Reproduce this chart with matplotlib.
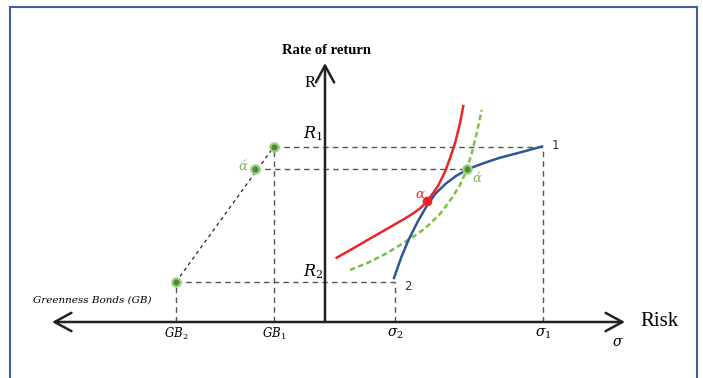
import matplotlib
matplotlib.use("Agg")
import matplotlib.pyplot as plt
from matplotlib.patches import Rectangle

plt.rcParams['mathtext.fontset'] = 'dejavuserif'

# positions on the two axes (origin where the axes cross)
gb1, gb2 = -51, -149
gb_alpha = -70
sig1, sig2 = 218, 70
r1, r2 = 175.5, 40
r_alpha = 153

# curves (x = risk, y = return)
blue_x = [69, 76, 83.5, 92.5, 102, 111, 121, 131, 142, 155, 165, 175, 195, 217]
blue_y = [44, 64, 82, 100, 116.5, 129, 138.5, 146, 152.5, 157.5, 161, 164.3, 169.5, 175.5]
red_x = [11.7, 28.3, 48.3, 71.7, 80, 88, 95, 101, 106, 113.3, 120, 125, 130, 135, 138.3]
red_y = [64.3, 73.7, 85.3, 98.7, 103.5, 108.5, 113.5, 119.5, 126, 136.5, 150.3, 163.7, 178.7, 198.7, 216]
green_x = [25, 41.7, 61.7, 83.3, 100, 115, 126.7, 135, 141.7, 146.7, 151.7, 156.7]
green_y = [52, 58.7, 68.7, 82, 93.5, 108, 123.7, 137, 152, 168.7, 188.7, 212]

fig = plt.figure(figsize=(7.03, 3.78), dpi=100)
ax = fig.add_axes([0, 0, 1, 1])
ax.set_xlim(-325, 378)
ax.set_ylim(-56, 322)
ax.axis('off')

# frame
fig.patches.append(Rectangle((10 / 703, -0.05), 687 / 703, 1.05 - 7 / 378, transform=fig.transFigure,
                             fill=False, edgecolor='#3d5fa6', lw=1.5))

dash = dict(color='#555555', lw=1.0, linestyle=(0, (4, 3)))
ax.plot([gb1, sig1], [r1, r1], **dash)
ax.plot([gb_alpha, 140], [r_alpha, r_alpha], **dash)
ax.plot([gb2, sig2], [r2, r2], **dash)
ax.plot([gb1, gb1], [0, r1], **dash)
ax.plot([gb2, gb2], [0, r2], **dash)
ax.plot([sig2, sig2], [0, r2], **dash)
ax.plot([sig1, sig1], [0, r1], **dash)
ax.plot([gb2, gb1], [r2, r1], color='#333333', lw=1.0, linestyle=(0, (2.5, 2.5)))

# axes with arrows
ax.annotate('', xy=(0, 259), xytext=(0, 0),
            arrowprops=dict(arrowstyle='->,head_length=0.55,head_width=0.3', lw=1.8, color='#222222',
                            mutation_scale=22, shrinkA=0, shrinkB=0))
ax.annotate('', xy=(300, 0), xytext=(-273, 0),
            arrowprops=dict(arrowstyle='<->,head_length=0.55,head_width=0.3', lw=1.8, color='#222222',
                            mutation_scale=22, shrinkA=0, shrinkB=0))

# curves
ax.plot(red_x, red_y, color='#e8262a', lw=1.8)
ax.plot(green_x, green_y, color='#7cc144', lw=1.8, linestyle=(0, (2.2, 1.3)))
ax.plot(blue_x, blue_y, color='#2f5597', lw=1.8)

# points
pt = dict(marker='o', ms=6, markerfacecolor='#4f8a37', markeredgecolor='#9dd186', markeredgewidth=1.6,
          linestyle='none', zorder=5)
ax.plot([gb1, gb_alpha, gb2, 142], [r1, r_alpha, r2, r_alpha], **pt)
ax.plot([102], [121], marker='o', ms=6, color='#e8262a', zorder=5)

serif = 'Liberation Serif'
ax.text(1, 272, 'Rate of return', ha='center', va='center', family=serif, fontweight='bold', fontsize=10.5)
ax.text(-15, 239, 'R', ha='center', va='center', family=serif, fontsize=12)
ax.text(315, 0, 'Risk', ha='left', va='center', family=serif, fontsize=15)
ax.text(293, -20, r'$\sigma$', ha='center', va='center', fontsize=10)

ax.text(-12, 188, r'$R_1$', ha='center', va='center', fontsize=11.5)
ax.text(-12, 50, r'$R_2$', ha='center', va='center', fontsize=11.5)
ax.text(gb2, -12, r'$GB_2$', ha='center', va='center', fontsize=8.5)
ax.text(gb1, -12, r'$GB_1$', ha='center', va='center', fontsize=8.5)
ax.text(sig2, -12, r'$\sigma_2$', ha='center', va='center', fontsize=10)
ax.text(sig1, -12, r'$\sigma_1$', ha='center', va='center', fontsize=10)
ax.text(-233, 22, 'Greenness Bonds (GB)', ha='center', va='center', family='DejaVu Serif',
        style='italic', fontsize=7.5)
ax.text(sig1 + 9, r1 + 1, '1', ha='left', va='center', family='DejaVu Sans', fontsize=8.5, color='#333333')
ax.text(sig2 + 9, r2 - 5, '2', ha='left', va='center', family='DejaVu Sans', fontsize=8.5, color='#333333')

ax.text(95, 127, 'α', ha='center', va='center', family='DejaVu Serif', style='italic',
        fontsize=9.5, color='#e8262a')
ax.text(gb_alpha - 12, r_alpha + 2, 'ά', ha='center', va='center', family='DejaVu Serif', style='italic',
        fontsize=9.5, color='#7cb55a')
ax.text(152, 143, 'ά', ha='center', va='center', family='DejaVu Serif', style='italic',
        fontsize=9.5, color='#7cb55a')

fig.savefig('out.png', dpi=100)
